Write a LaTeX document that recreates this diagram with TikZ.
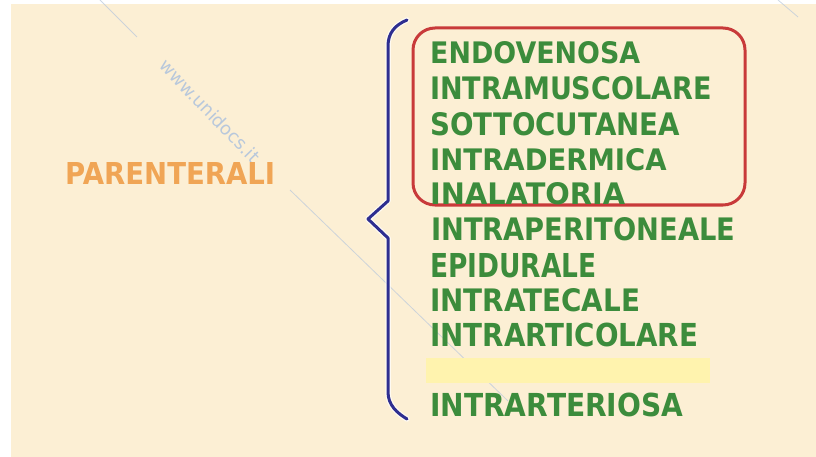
\documentclass[tikz,border=0pt]{standalone}
\usepackage{fontspec}
\setmainfont{DejaVu Sans}
\usepackage{graphicx}
\definecolor{bg}{HTML}{FCEFD4}
\definecolor{txtgreen}{HTML}{3C8C3C}
\definecolor{txtorange}{HTML}{F0A555}
\definecolor{boxred}{HTML}{C83A3A}
\definecolor{braceblue}{HTML}{2E2E90}
\definecolor{hilite}{HTML}{FFF3AE}
\definecolor{wmark}{HTML}{B8C8DC}
\newcommand{\fitword}[3]{\resizebox{#1pt}{#2pt}{\bfseries #3}}
\tikzset{
  item/.style={anchor=base west, inner sep=0pt, text=txtgreen},
  title/.style={anchor=base west, inner sep=0pt, text=txtorange},
  wm/.style={draw=wmark, line width=0.8pt, opacity=0.7}
}
\begin{document}
\begin{tikzpicture}[x=1pt,y=-1pt]
\useasboundingbox (0,0) rectangle (816,457);
\fill[white] (0,0) rectangle (816,457);
\fill[bg] (11,4) rectangle (816,457);
% watermark
\draw[wm] (100,0) -- (137,37);
\draw[wm] (290,190) -- (508,401);
\draw[wm] (778,0) -- (798,17);
\node[text=wmark, rotate=-46, font=\fontsize{18}{18}\selectfont, inner sep=0pt] (wmtext) at (210,111) {www.unidocs.it};
% highlighted empty line
\fill[hilite] (426,358) rectangle (710,383);
% red rounded frame
\draw[boxred, line width=3pt, rounded corners=22pt] (413,28) rectangle (745,205);
% brace
\draw[white, line width=5.5pt, opacity=0.7, line join=round, line cap=round]
  (407,20) .. controls (395,25) and (388,33) .. (388,46) -- (388,201) -- (368,219) -- (388,238) -- (388,392) .. controls (388,405) and (397,413) .. (407,419);
\draw[braceblue, line width=3pt, line join=round, line cap=round]
  (407,20) .. controls (395,25) and (388,33) .. (388,46) -- (388,201) -- (368,219) -- (388,238) -- (388,392) .. controls (388,405) and (397,413) .. (407,419);
% title
\node[title] (par) at (65,185) {\fitword{210}{22}{PARENTERALI}};
% items
\node[item] (i1) at (430,63.3) {\fitword{210}{22}{ENDOVENOSA}};
\node[item] (i2) at (430,99.5) {\fitword{281.5}{23}{INTRAMUSCOLARE}};
\node[item] (i3) at (430,135.5) {\fitword{250}{23}{SOTTOCUTANEA}};
\node[item] (i4) at (430,171) {\fitword{236.5}{22}{INTRADERMICA}};
\node[item] (i5) at (430,205) {\fitword{195}{22}{INALATORIA}};
\node[item] (i6) at (431,240.5) {\fitword{304}{23}{INTRAPERITONEALE}};
\node[item] (i7) at (430,277.5) {\fitword{166.5}{24}{EPIDURALE}};
\node[item] (i8) at (430,311) {\fitword{210}{23}{INTRATECALE}};
\node[item] (i9) at (430,346.5) {\fitword{268}{23.5}{INTRARTICOLARE}};
\node[item] (i10) at (430,416.5) {\fitword{253}{23.5}{INTRARTERIOSA}};
\end{tikzpicture}
\end{document}
